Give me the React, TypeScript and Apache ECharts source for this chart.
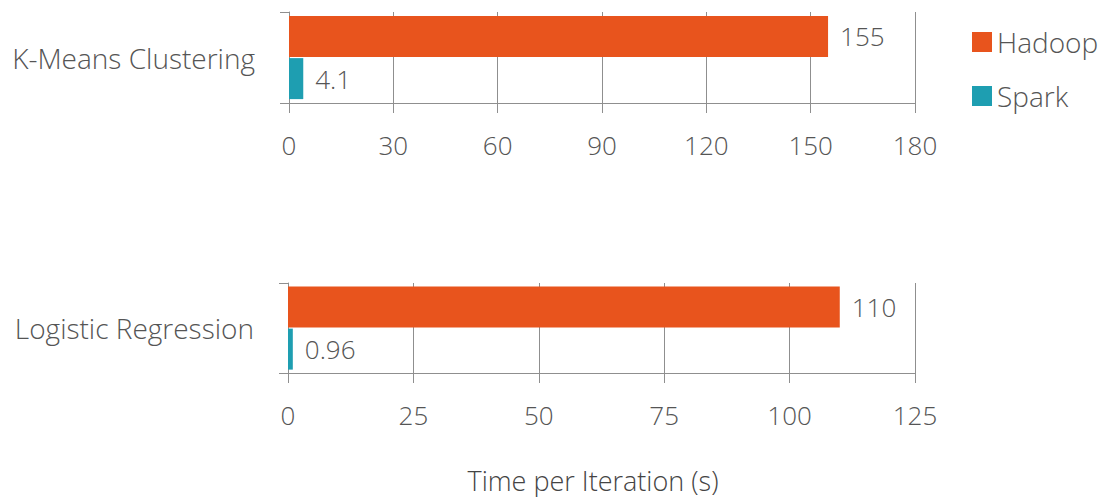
import React, { useEffect, useRef } from "react";
import * as echarts from "echarts";

const topCategories = ["K-Means Clustering"];
const bottomCategories = ["Logistic Regression"];
const seriesNames = ["Hadoop", "Spark"];
const hadoopTop = [155];
const sparkTop = [4.1];
const hadoopBottom = [110];
const sparkBottom = [0.96];
const topAxisMax = 180;
const topAxisInterval = 30;
const bottomAxisMax = 125;
const bottomAxisInterval = 25;
const axisTitle = "Time per Iteration (s)";

const HADOOP = "#E8541D";
const SPARK = "#1E9EB1";
const TEXT = "#555555";
const LINE = "#8f8f8f";
const FONT = "Open Sans";

export default function App() {
  const ref = useRef<HTMLDivElement>(null);
  useEffect(() => {
    if (!ref.current) return;
    const chart = echarts.init(ref.current, undefined, { renderer: "svg" });
    const xAxisCommon = (max: number, interval: number, gridIndex: number) => ({
      type: "value",
      gridIndex,
      min: 0,
      max,
      interval,
      axisLine: { show: true, lineStyle: { color: LINE, width: 1 } },
      axisTick: { show: true, length: 10, lineStyle: { color: LINE } },
      splitLine: { show: true, lineStyle: { color: LINE, width: 1 } },
      axisLabel: {
        color: TEXT,
        fontFamily: FONT,
        fontWeight: 300,
        fontSize: 26,
        margin: 29,
      },
    });
    const yAxisCommon = (data: string[], gridIndex: number) => ({
      type: "category",
      gridIndex,
      data,
      axisLine: { show: true, lineStyle: { color: LINE, width: 1 } },
      axisTick: { show: true, length: 9, lineStyle: { color: LINE } },
      axisLabel: {
        color: TEXT,
        fontFamily: FONT,
        fontWeight: 300,
        fontSize: 28,
        margin: 34,
      },
    });
    const label = {
      show: true,
      position: "right",
      distance: 12,
      color: TEXT,
      fontFamily: FONT,
      fontWeight: 300,
      fontSize: 26,
    };
    const bar = (name: string, data: number[], color: string, idx: number) => ({
      type: "bar",
      name,
      data,
      xAxisIndex: idx,
      yAxisIndex: idx,
      barWidth: 41,
      barGap: "3%",
      itemStyle: { color },
      label,
    });
    chart.setOption({
      animation: false,
      backgroundColor: "#ffffff",
      grid: [
        { left: 289, right: 194, top: 12, height: 91 },
        { left: 288, right: 194, top: 283, height: 90 },
      ],
      legend: {
        data: seriesNames,
        orient: "vertical",
        left: 967,
        top: 23,
        icon: "rect",
        itemWidth: 20,
        itemHeight: 20,
        itemGap: 26,
        textStyle: {
          color: TEXT,
          fontFamily: FONT,
          fontWeight: 300,
          fontSize: 28,
        },
      },
      xAxis: [
        xAxisCommon(topAxisMax, topAxisInterval, 0),
        xAxisCommon(bottomAxisMax, bottomAxisInterval, 1),
      ],
      yAxis: [yAxisCommon(topCategories, 0), yAxisCommon(bottomCategories, 1)],
      series: [
        bar(seriesNames[0], hadoopTop, HADOOP, 0),
        bar(seriesNames[1], sparkTop, SPARK, 0),
        bar(seriesNames[0], hadoopBottom, HADOOP, 1),
        bar(seriesNames[1], sparkBottom, SPARK, 1),
      ],
      graphic: [
        {
          type: "text",
          x: 593,
          y: 480,
          style: {
            text: axisTitle,
            fill: "#444444",
            fontFamily: FONT,
            fontWeight: 300,
            fontSize: 27,
            lineHeight: 27,
            align: "center",
            verticalAlign: "middle",
          },
        },
      ],
    });
    return () => chart.dispose();
  }, []);
  return (
    <div
      ref={ref}
      style={{ position: "fixed", left: 0, top: 0, width: 1109, height: 497 }}
    />
  );
}
